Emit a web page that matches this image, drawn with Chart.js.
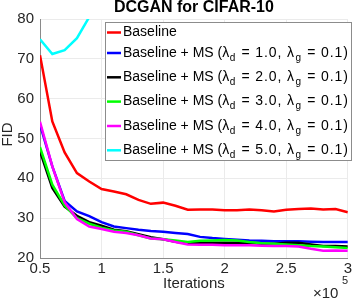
<!doctype html>
<html>
<head>
<meta charset="UTF-8">
<title>DCGAN for CIFAR-10</title>
<script src="https://cdn.jsdelivr.net/npm/chart.js@4"></script>
<style>
  body { margin: 0; background: #fff; }
</style>
</head>
<body>
<canvas id="c" width="354" height="304"></canvas>
<script>
const iterations = [0.5, 0.6, 0.7, 0.8, 0.9, 1.0, 1.1, 1.2, 1.3, 1.4, 1.5, 1.6, 1.7,
                    1.8, 1.9, 2.0, 2.1, 2.2, 2.3, 2.4, 2.5, 2.6, 2.7, 2.8, 2.9, 3.0];

const baseline = [70.9, 54.3, 46.5, 41.3, 39.2, 37.3, 36.7, 36.0, 34.6, 33.6, 33.9, 33.1, 32.1,
                  32.2, 32.2, 32.0, 32.0, 32.2, 32.0, 31.7, 32.1, 32.3, 32.4, 32.2, 32.3, 31.5];
const ms1 = [53.5, 43.0, 34.3, 31.7, 30.5, 29.0, 27.9, 27.5, 27.1, 26.8, 26.6, 26.3, 26.0,
             25.3, 25.0, 24.8, 24.6, 24.4, 24.3, 24.2, 24.2, 24.2, 24.1, 24.0, 24.0, 24.0];
const ms2 = [46.8, 37.6, 32.9, 30.6, 29.0, 28.1, 27.1, 26.7, 26.0, 25.2, 24.7, 24.1, 23.7,
             23.8, 23.8, 23.8, 23.8, 23.8, 23.6, 23.6, 23.8, 23.8, 23.4, 23.0, 23.0, 22.9];
const ms3 = [47.8, 38.4, 33.2, 30.0, 28.6, 27.6, 26.9, 26.6, 25.7, 24.9, 24.7, 24.4, 24.0,
             24.3, 24.4, 24.5, 24.4, 24.0, 23.7, 23.6, 23.4, 23.2, 23.0, 22.9, 22.7, 22.5];
const ms4 = [54.2, 43.0, 34.0, 29.8, 27.9, 27.3, 26.6, 26.3, 25.7, 24.9, 24.7, 24.0, 23.4,
             23.3, 23.3, 23.2, 23.2, 23.2, 23.1, 23.0, 23.0, 22.9, 22.3, 21.8, 21.9, 21.8];
const ms5 = [74.9, 71.2, 72.2, 75.2, 80.5];

const labels = [
  'Baseline',
  'Baseline + MS (λ_d = 1.0, λ_g = 0.1)',
  'Baseline + MS (λ_d = 2.0, λ_g = 0.1)',
  'Baseline + MS (λ_d = 3.0, λ_g = 0.1)',
  'Baseline + MS (λ_d = 4.0, λ_g = 0.1)',
  'Baseline + MS (λ_d = 5.0, λ_g = 0.1)'
];
const colors = ['#ff0000', '#0000ff', '#000000', '#00ff00', '#ff00ff', '#00ffff'];
const series = [baseline, ms1, ms2, ms3, ms4, ms5];

const FONT = '"Liberation Sans", Arial, Helvetica, sans-serif';

function toPoints (ys) {
  return ys.map((y, i) => ({ x: iterations[i], y: y }))
}

// draws label text, "_x" becomes a subscript x
function drawRich (ctx, text, x, y) {
  const parts = text.split(/_(\w)/);
  for (let i = 0; i < parts.length; i++) {
    if (parts[i] === '') continue;
    // matlab's tex spacing is a bit looser after the first symbol
    if ('letterSpacing' in ctx) ctx.letterSpacing = i > 0 ? '0.9px' : '0px';
    if (i % 2 === 1) {
      ctx.font = '10px ' + FONT;
      ctx.fillText(parts[i], x + 0.5, y + 5);
      x += ctx.measureText(parts[i]).width + 1;
    } else {
      ctx.font = '14px ' + FONT;
      ctx.fillText(parts[i], x, y);
      x += ctx.measureText(parts[i]).width;
    }
  }
  if ('letterSpacing' in ctx) ctx.letterSpacing = '0px';
}

const annotate = {
  id: 'annotate',
  afterDraw (chart) {
    const ctx = chart.ctx;
    const a = chart.chartArea;
    ctx.save();
    ctx.textBaseline = 'middle';

    // title
    ctx.fillStyle = '#000';
    ctx.textAlign = 'center';
    ctx.font = 'bold 16px ' + FONT;
    ctx.fillText('DCGAN for CIFAR-10', (a.left + a.right) / 2, 8);

    // axis titles
    ctx.fillStyle = '#262626';
    ctx.font = '15px ' + FONT;
    ctx.fillText('Iterations', (a.left + a.right) / 2, 284);
    ctx.save();
    ctx.translate(8, (a.top + a.bottom) / 2 - 4);
    ctx.rotate(-Math.PI / 2);
    ctx.fillText('FID', 0, 0);
    ctx.restore();

    // exponent
    ctx.textAlign = 'left';
    ctx.fillText('×10', 313, 294);
    ctx.font = '11px ' + FONT;
    ctx.fillText('5', 342, 281);

    // legend
    const box = { x: 105.5, y: 22.5, w: 246, h: 138 };
    ctx.fillStyle = '#fff';
    ctx.fillRect(box.x, box.y, box.w, box.h);
    ctx.strokeStyle = '#8c8c8c';
    ctx.lineWidth = 1;
    ctx.strokeRect(box.x, box.y, box.w, box.h);
    const rows = [32.5, 53, 77.3, 101.6, 126, 150.3];
    chart.data.datasets.forEach((ds, i) => {
      const y = rows[i];
      ctx.strokeStyle = ds.borderColor;
      ctx.lineWidth = 2.5;
      ctx.beginPath();
      ctx.moveTo(107, y);
      ctx.lineTo(121, y);
      ctx.stroke();
      ctx.fillStyle = '#000';
      drawRich(ctx, ds.label, 123, y);
    });
    ctx.restore();
  }
};

const datasets = series.map((s, i) => ({
  label: labels[i],
  data: toPoints(s),
  borderColor: colors[i],
  backgroundColor: colors[i],
  borderWidth: 2.5,
  pointRadius: 0,
  tension: 0,
  fill: false,
  clip: 0,
  order: series.length - i
}));

new Chart(document.getElementById('c'), {
  type: 'line',
  data: { datasets: datasets },
  plugins: [annotate],
  options: {
    responsive: false,
    devicePixelRatio: 1,
    animation: false,
    events: [],
    layout: { padding: { top: 19, right: 5, left: 0, bottom: 0 } },
    plugins: {
      legend: { display: false },
      title: { display: false },
      tooltip: { enabled: false }
    },
    scales: {
      x: {
        type: 'linear',
        min: 0.5,
        max: 3,
        ticks: {
          stepSize: 0.5,
          color: '#262626',
          font: { size: 15, family: FONT },
          padding: 2,
          maxRotation: 0,
          callback: v => String(+v.toFixed(1))
        },
        grid: { color: '#ebebeb', drawTicks: false },
        border: { color: '#8a8a8a' },
        afterFit: s => { s.height = 46 }
      },
      y: {
        min: 20,
        max: 80,
        ticks: {
          stepSize: 10,
          color: '#262626',
          font: { size: 15, family: FONT },
          padding: 6
        },
        grid: { color: '#ebebeb', drawTicks: false },
        border: { color: '#8a8a8a' },
        afterFit: s => { s.width = 40 }
      }
    }
  }
});
</script>
</body>
</html>
